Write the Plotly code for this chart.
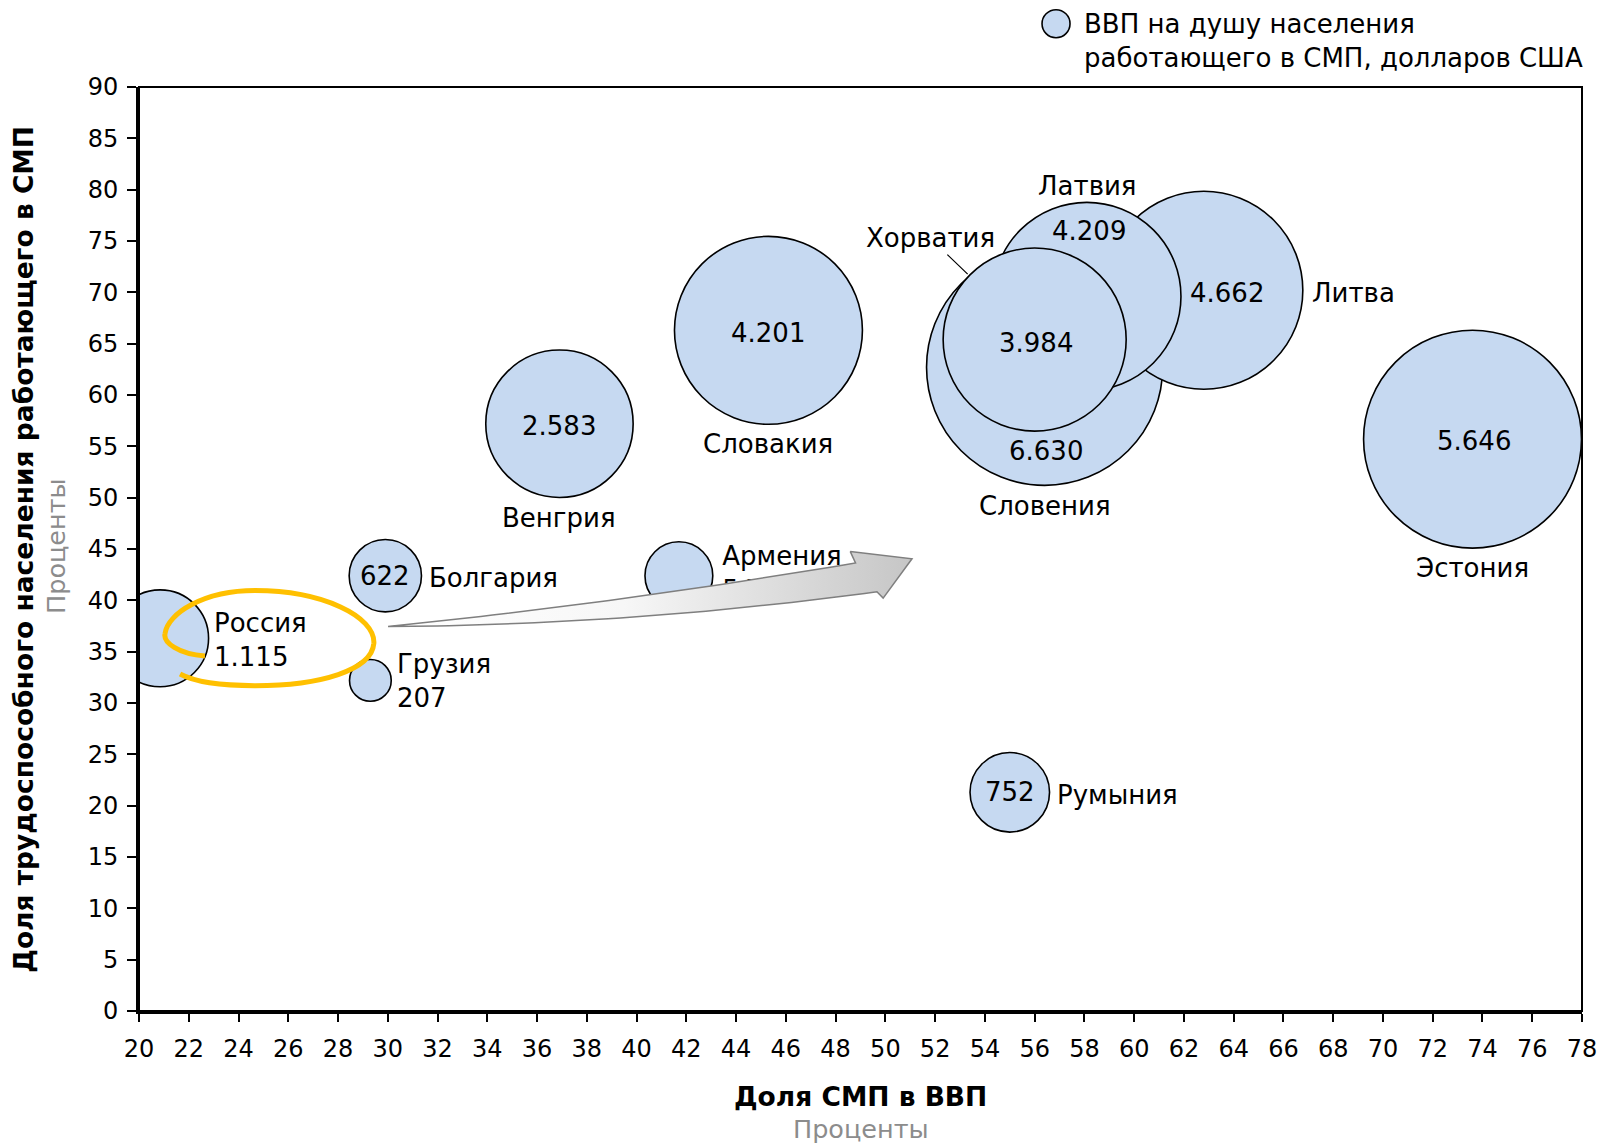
import plotly.graph_objects as go

# ---------------- data ----------------
countries = ["Россия", "Грузия", "Болгария", "Армения", "Венгрия", "Словакия",
             "Словения", "Литва", "Латвия", "Хорватия", "Эстония", "Румыния"]
sme_gdp_share = [20.85, 29.3, 29.9, 41.7, 36.9, 45.3, 56.4, 62.8, 58.1, 56.0, 73.6, 55.0]
sme_employment_share = [36.3, 32.2, 42.4, 42.4, 57.2, 66.3, 62.7, 70.2, 69.6, 65.4, 55.7, 21.3]
gdp_per_worker = [1115, 207, 622, 547, 2583, 4201, 6630, 4662, 4209, 3984, 5646, 752]

x_ticks = list(range(20, 79, 2))
y_ticks = list(range(0, 91, 5))

legend_text = "ВВП на душу населения<br>работающего в СМП, долларов США"
x_title = "Доля СМП в ВВП"
y_title = "Доля трудоспособного населения работающего в СМП"
unit_text = "Проценты"

# ---------------- styles ----------------
FONT = "DejaVu Sans"
FS = 26
BUBBLE_FILL = "#C6D9F1"


def fmt(v):
    return f"{v:,}".replace(",", ".")


# label layout per country (pixel offsets from the bubble centre, dy positive = down)
label_style = {
    "Россия":   dict(mode="side2", nx=52, ny=2),
    "Грузия":   dict(mode="side2", nx=25, ny=1),
    "Болгария": dict(vx=0, vy=0, mode="right", nx=42, ny=2),
    "Армения":  dict(mode="trace"),
    "Венгрия":  dict(vx=0, vy=2, mode="center", nx=0, ny=94),
    "Словакия": dict(vx=0, vy=3, mode="center", nx=0, ny=114),
    "Словения": dict(vx=1, vy=84, mode="center", nx=0, ny=139),
    "Литва":    dict(vx=23, vy=3, mode="right", nx=106, ny=3),
    "Латвия":   dict(vx=2, vy=-65, mode="center", nx=1, ny=-110),
    "Хорватия": dict(vx=1, vy=3, mode="leader"),
    "Эстония":  dict(vx=1, vy=2, mode="center", nx=0, ny=129),
    "Румыния":  dict(vx=0, vy=0, mode="right", nx=45, ny=3),
}

SIZEREF = 1.0 / (2 * 1.45 ** 2)

fig = go.Figure()

trace_text = []
for c, v in zip(countries, gdp_per_worker):
    if label_style[c]["mode"] == "trace":
        trace_text.append(f"{c}<br>{fmt(v)}")
    else:
        trace_text.append("")

fig.add_trace(go.Scatter(
    x=sme_gdp_share, y=sme_employment_share,
    mode="markers+text",
    text=trace_text, textposition="middle right",
    textfont=dict(family=FONT, size=FS, color="black"),
    marker=dict(size=gdp_per_worker, sizemode="area", sizeref=SIZEREF,
                color=BUBBLE_FILL, opacity=1,
                line=dict(color="black", width=1.6)),
    cliponaxis=True, hoverinfo="skip", showlegend=False,
))

# ---------------- decorative curved arrow (data space) ----------------
def qbez(p0, c, p1, n=40):
    pts = []
    for i in range(n + 1):
        t = i / n
        a, b, d = (1 - t) ** 2, 2 * (1 - t) * t, t ** 2
        pts.append((a * p0[0] + b * c[0] + d * p1[0], a * p0[1] + b * c[1] + d * p1[1]))
    return pts

tail = (30.01, 37.45)
top_end = (48.80, 43.64)
head_top = (48.59, 44.75)
tip = (51.07, 44.05)
head_bot = (49.91, 40.22)
bot_end = (49.66, 40.83)
poly = qbez(tail, (39.32, 39.74), top_end)
poly += [head_top, tip, head_bot, bot_end]
poly += qbez(bot_end, (39.84, 37.6), tail)
fig.add_trace(go.Scatter(
    x=[p[0] for p in poly], y=[p[1] for p in poly],
    mode="lines", fill="toself",
    fillgradient=dict(type="horizontal",
                      colorscale=[[0, "#ffffff"], [0.45, "#f7f7f7"], [1, "#c6c6c6"]]),
    line=dict(color="#7f7f7f", width=1.5),
    hoverinfo="skip", showlegend=False,
))

annotations = []
for c, x, y, v in zip(countries, sme_gdp_share, sme_employment_share, gdp_per_worker):
    st = label_style[c]
    m = st["mode"]
    if m == "trace":
        continue
    if m == "side2":
        annotations.append(dict(x=x, y=y, xref="x", yref="y", text=f"{c}<br>{fmt(v)}",
                                showarrow=False, xanchor="left", yanchor="middle", align="left",
                                xshift=st["nx"], yshift=-st["ny"]))
        continue
    annotations.append(dict(x=x, y=y, xref="x", yref="y", text=fmt(v), showarrow=False,
                            xanchor="center", yanchor="middle",
                            xshift=st["vx"], yshift=-st["vy"]))
    if m == "center":
        annotations.append(dict(x=x, y=y, xref="x", yref="y", text=c, showarrow=False,
                                xanchor="center", yanchor="middle",
                                xshift=st["nx"], yshift=-st["ny"]))
    elif m == "right":
        annotations.append(dict(x=x, y=y, xref="x", yref="y", text=c, showarrow=False,
                                xanchor="left", yanchor="middle",
                                xshift=st["nx"], yshift=-st["ny"]))
    elif m == "leader":
        annotations.append(dict(x=x, y=y, xref="x", yref="y", text=c, showarrow=True,
                                arrowhead=0, arrowwidth=1.2, arrowcolor="black",
                                xshift=-67, yshift=65.5, ax=-37.5, ay=-36))

# axis titles and legend text
annotations += [
    dict(x=0.5, y=-0.0927, xref="paper", yref="paper", text=f"<b>{x_title}</b>",
         showarrow=False, xanchor="center", yanchor="middle", font=dict(size=26.5)),
    dict(x=0.5, y=-0.1274, xref="paper", yref="paper", text=unit_text,
         showarrow=False, xanchor="center", yanchor="middle",
         font=dict(size=25.5, color="#8c8c8c")),
    dict(x=-0.0806, y=0.5, xref="paper", yref="paper", text=f"<b>{y_title}</b>",
         showarrow=False, xanchor="center", yanchor="middle", textangle=-90,
         font=dict(size=26.5)),
    dict(x=-0.0577, y=0.503, xref="paper", yref="paper", text=unit_text,
         showarrow=False, xanchor="center", yanchor="middle", textangle=-90,
         font=dict(size=25.5, color="#8c8c8c")),
    dict(x=0.6532, y=1.0494, xref="paper", yref="paper", text=legend_text,
         showarrow=False, xanchor="left", yanchor="middle", align="left"),
]

shapes = [
    # yellow hand-drawn loop around Russia
    dict(type="path", xref="x", yref="y", layer="above",
         path=("M 22.65,34.59 C 21.6,34.75 20.95,35.9 21.05,36.79 "
               "C 21.15,38.7 22.6,40.95 24.66,40.95 "
               "C 27.4,40.95 29.5,38.4 29.44,35.82 "
               "C 29.35,33.2 27.3,31.69 24.66,31.69 "
               "C 23.3,31.69 22.2,32.1 21.65,32.82"),
         line=dict(color="#FFC000", width=5)),
    # plot frame
    dict(type="rect", xref="paper", yref="paper", x0=0, x1=1, y0=0, y1=1,
         line=dict(color="black", width=2), layer="above"),
    # legend bubble
    dict(type="circle", xref="paper", yref="paper", xsizemode="pixel", ysizemode="pixel",
         xanchor=0.6355, yanchor=1.0685, x0=-14, x1=14, y0=-14, y1=14,
         fillcolor=BUBBLE_FILL, line=dict(color="black", width=1.6)),
]

fig.update_layout(
    width=1609, height=1135,
    margin=dict(l=131, r=35, t=79, b=132),
    paper_bgcolor="white", plot_bgcolor="white",
    font=dict(family=FONT, size=FS, color="black"),
    showlegend=False,
    annotations=annotations,
    shapes=shapes,
)
fig.update_xaxes(range=[20, 78], tickvals=x_ticks, ticks="outside", ticklen=8, tickwidth=2,
                 tickcolor="black", showline=True, linewidth=3, linecolor="black",
                 showgrid=False, zeroline=False, tickfont=dict(size=24),
                 ticklabelstandoff=6)
fig.update_yaxes(range=[0, 90], tickvals=y_ticks, ticks="outside", ticklen=9, tickwidth=2,
                 tickcolor="black", showline=True, linewidth=3, linecolor="black",
                 showgrid=False, zeroline=False, tickfont=dict(size=24),
                 ticklabelstandoff=4)

fig.write_html("out.html")
